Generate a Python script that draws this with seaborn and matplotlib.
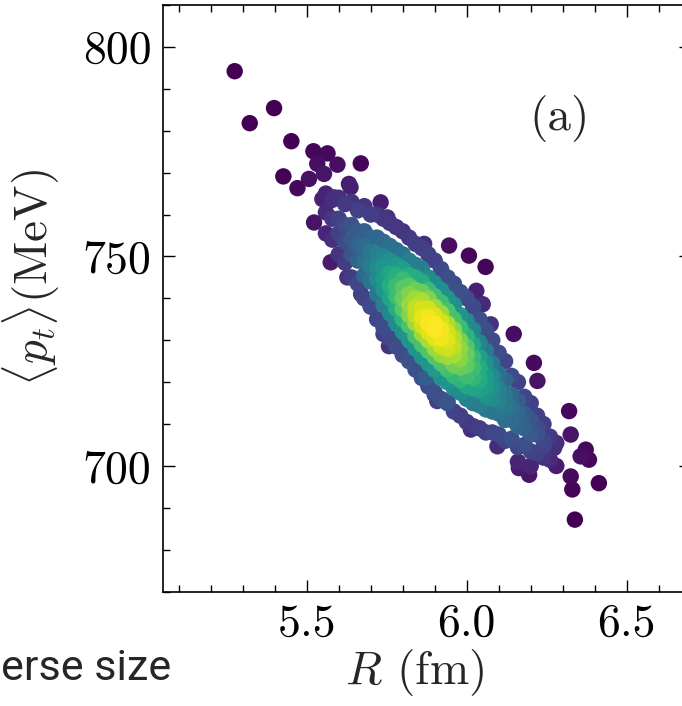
import numpy as np
import pandas as pd
import matplotlib
matplotlib.use("Agg")
import matplotlib.pyplot as plt
from matplotlib.ticker import MultipleLocator
import seaborn as sns

# Event-by-event radius R (fm) against mean transverse momentum <p_t> (MeV).
# Bulk of the events, grouped by R.
core_R = [5.56, 5.58, 5.60, 5.62, 5.64, 5.66, 5.68, 5.70, 5.72, 5.74,
          5.76, 5.78, 5.80, 5.82, 5.84, 5.86, 5.88, 5.90, 5.92, 5.94,
          5.96, 5.98, 6.00, 6.02, 6.04, 6.06, 6.08, 6.10, 6.12, 6.14,
          6.16, 6.18, 6.20, 6.22, 6.24, 6.26, 6.28]
core_pt = [
    [755.5, 760.5, 765],
    [754, 759, 763.5],
    [750.5, 755.5, 759, 764],
    [748.5, 753.5, 757.5, 762.5],
    [745, 750.5, 754, 757.5, 763],
    [743.5, 749, 752.5, 756, 761],
    [740, 745.5, 749, 752.5, 756, 762],
    [738, 744, 747.5, 751, 754.5, 760],
    [735, 741, 744.5, 747.5, 750.5, 754.5, 760],
    [733, 738.5, 742, 744.5, 747.5, 750, 753.5, 759],
    [730.5, 736.5, 740, 743, 746, 749, 752.5, 758],
    [728.5, 734, 737.5, 740.5, 743, 745.5, 748, 751.5, 757],
    [726.5, 732, 735, 737.5, 740, 742.5, 744.5, 747, 750.5, 756],
    [725, 730, 733.5, 736, 738.5, 741, 743, 745.5, 749, 754.5],
    [723, 728, 731, 734, 736, 738, 740, 742, 745, 748, 753],
    [721, 726, 729, 731.5, 733.5, 735.5, 737.5, 739.5, 741.5, 744, 747, 752],
    [719, 724.5, 727.5, 730, 732, 734, 735.5, 737.5, 740, 742, 745, 750.5],
    [717.5, 723, 726, 728, 730.5, 732.5, 734, 736, 738, 740.5, 743.5, 749],
    [716, 721, 724.5, 726.5, 728.5, 730.5, 732.5, 734.5, 736.5, 739, 742, 747],
    [715, 720, 723, 726, 728, 730, 732, 734, 737, 740, 745],
    [713, 718.5, 721.5, 724, 726.5, 728.5, 730.5, 732.5, 735, 738.5, 743.5],
    [712, 717.5, 720.5, 723.5, 725.5, 728, 730, 733, 736, 741.5],
    [710.5, 716, 719, 721.5, 724, 726.5, 728.5, 731, 734.5, 740],
    [709.5, 715, 718.5, 721, 723.5, 726, 729, 732.5, 738],
    [709, 714.5, 718, 720.5, 723.5, 726, 729.5, 735],
    [708, 713.5, 716.5, 719, 721.5, 724.5, 727.5, 732.5],
    [708, 713, 716, 719, 721.5, 724.5, 730],
    [707.5, 712.5, 715.5, 718.5, 722, 727],
    [706, 711, 714, 717, 720.5, 725],
    [706.5, 711, 714, 717, 721.5],
    [704.5, 709.5, 712.5, 715.5, 720],
    [705, 709, 712.5, 716.5],
    [703.5, 707.5, 711, 715],
    [703, 707.5, 712],
    [702, 706, 710],
    [701.5, 707],
    [700, 705.5],
]

# Sparse events in the tails of the distribution.
tail_R = [5.275, 5.322, 5.398, 5.452, 5.427, 5.471, 5.521, 5.565, 5.596, 5.533,
          5.554, 5.507, 5.669, 5.632, 5.549, 5.585, 5.523, 5.731, 5.752, 5.867,
          5.945, 6.007, 6.059, 5.575, 5.627, 5.757, 5.872, 5.908, 6.013, 6.147,
          6.210, 6.221, 6.320, 6.325, 6.372, 6.382, 6.356, 6.325, 6.330, 6.413,
          6.338, 6.096, 6.163, 6.195, 6.200, 6.273, 6.241, 6.221,
          5.670, 5.700, 5.740, 5.900, 5.940, 6.030, 6.050, 6.075, 6.160, 5.637]
tail_pt = [794.2, 781.8, 785.4, 777.5, 769.1, 766.3, 775.1, 774.6, 771.9, 772.1,
           769.7, 768.5, 772.2, 767.3, 763.7, 764.1, 758.1, 762.9, 759.3, 753.0,
           752.6, 750.2, 747.5, 748.6, 745.0, 728.6, 721.1, 715.5, 708.7, 731.5,
           724.6, 720.3, 713.1, 707.5, 703.9, 701.5, 702.3, 697.5, 694.4, 695.9,
           687.2, 704.7, 699.5, 697.9, 700.0, 704.3, 704.7, 709.1,
           741.0, 738.2, 731.5, 717.0, 715.5, 741.8, 738.6, 733.8, 701.0, 766.5]

x_ticks = [5.5, 6.0, 6.5]
x_tick_labels = ["5.5", "6.0", "6.5"]
y_ticks = [700, 750, 800]
y_tick_labels = ["700", "750", "800"]

R, pt = [], []
for r, ys in zip(core_R, core_pt):
    R += [r] * len(ys)
    pt += ys
R += tail_R
pt += tail_pt
df = pd.DataFrame({"R": R, "pt": pt})

# Colour each event by the local density of events (gaussian kernel in
# display-like units so that both axes weigh comparably); the squared
# density gives the steep fall-off from the core to the edges.
sx = df["R"].to_numpy() * 320.0
sy = df["pt"].to_numpy() * 4.19
d2 = (sx[:, None] - sx[None, :]) ** 2 + (sy[:, None] - sy[None, :]) ** 2
dens = np.exp(-d2 / (2 * 22.0 ** 2)).sum(axis=1)
df["density"] = (dens / dens.max()) ** 2
df = df.sort_values("density")

sns.set_style("ticks")
plt.rcParams.update({
    "font.family": "serif",
    "font.serif": ["cmr10"],
    "mathtext.fontset": "cm",
    "axes.formatter.use_mathtext": True,
    "axes.unicode_minus": False,
})

W, H = 682, 706
fig = plt.figure(figsize=(W / 100, H / 100), dpi=100)
ax = fig.add_axes([162.7 / W, (H - 591.7) / H, 528 / W, 586.7 / H])

sns.scatterplot(data=df, x="R", y="pt", hue="density", palette="viridis",
                hue_norm=(0, 1), s=140, linewidth=0, legend=False, ax=ax)

ax.set_xlim(5.05, 6.70)
ax.set_ylim(670, 810)
ax.set_xticks(x_ticks)
ax.set_xticklabels(x_tick_labels)
ax.set_yticks(y_ticks)
ax.set_yticklabels(y_tick_labels)
ax.xaxis.set_minor_locator(MultipleLocator(0.1))
ax.yaxis.set_minor_locator(MultipleLocator(10))
ax.xaxis.set_ticks_position("both")
ax.yaxis.set_ticks_position("both")
ax.tick_params(which="both", direction="in", top=True, right=True,
               width=1.0, colors="black")
ax.tick_params(which="major", length=8.6, labelsize=33, pad=8)
ax.tick_params(which="minor", length=5)
for sp in ax.spines.values():
    sp.set_linewidth(1.2)
    sp.set_color("black")

ax.set_xlabel(r"$R$ (fm)", fontsize=34)
ax.set_ylabel(r"$\langle p_t\rangle$(MeV)", fontsize=34)
ax.xaxis.set_label_coords(0.478, -0.095)
ax.yaxis.set_label_coords(-0.19, 0.536)

ax.text(0.752, 0.807, "(a)", transform=ax.transAxes, fontsize=34,
        ha="center", va="center")

fig.text(0.002, (H - 680) / H, "erse size", family="Roboto", fontsize=31,
         ha="left", va="baseline")

fig.savefig("out.png", dpi=100)
